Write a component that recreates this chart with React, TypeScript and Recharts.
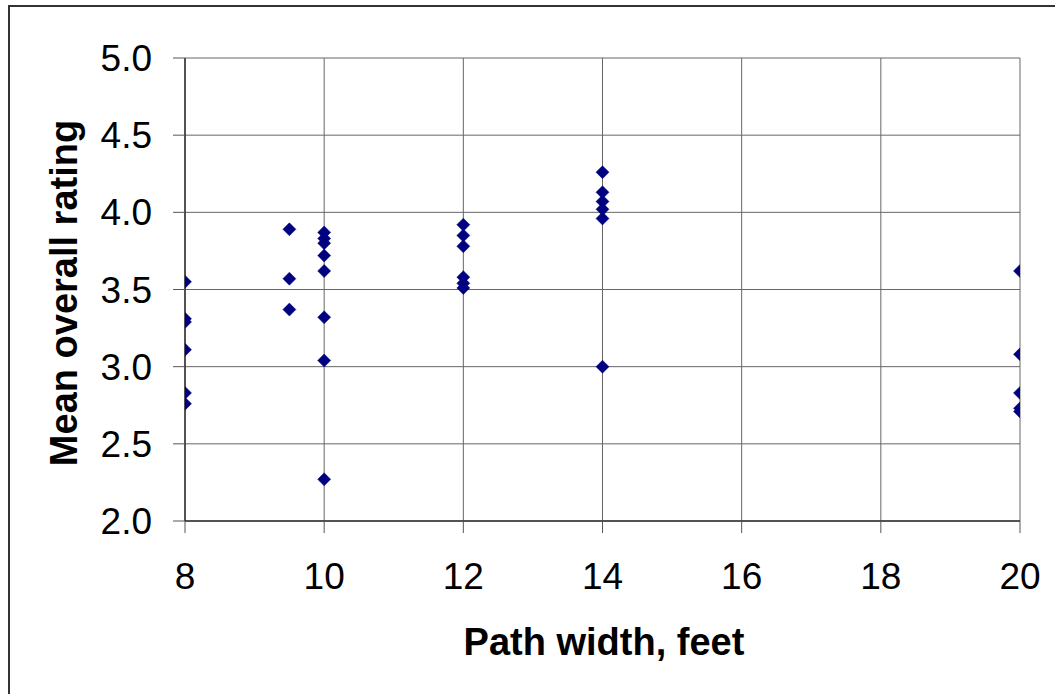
import React from "react";
import { ScatterChart, Scatter, XAxis, YAxis, CartesianGrid, Label } from "recharts";

const xTicks = [8, 10, 12, 14, 16, 18, 20];
const yTicks = [2.0, 2.5, 3.0, 3.5, 4.0, 4.5, 5.0];

const widths = [8, 9.5, 10, 12, 14, 20];
const ratingsAt8 = [3.55, 3.31, 3.29, 3.11, 2.83, 2.76];
const ratingsAt9_5 = [3.89, 3.57, 3.37];
const ratingsAt10 = [3.87, 3.83, 3.8, 3.72, 3.62, 3.32, 3.04, 2.27];
const ratingsAt12 = [3.92, 3.85, 3.78, 3.58, 3.54, 3.51];
const ratingsAt14 = [4.26, 4.13, 4.07, 4.02, 3.96, 3.0];
const ratingsAt20 = [3.62, 3.08, 2.83, 2.73, 2.71];

const groups = [ratingsAt8, ratingsAt9_5, ratingsAt10, ratingsAt12, ratingsAt14, ratingsAt20];
const data = widths.flatMap((w, i) => groups[i].map((r) => ({ x: w, y: r })));

const FONT = "'Liberation Sans', Arial, sans-serif";

const Diamond = (props: any) => {
  const { cx, cy } = props;
  const s = 6.5;
  return (
    <path
      d={`M${cx},${cy - s}L${cx + s},${cy}L${cx},${cy + s}L${cx - s},${cy}Z`}
      fill="#000080"
      stroke="#000080"
      strokeWidth={0.5}
    />
  );
};

export default function App() {
  return (
    <div
      style={{
        position: "absolute",
        left: 0,
        top: 0,
        width: 1055,
        height: 694,
        overflow: "hidden",
        background: "#fff",
      }}
    >
      <div
        style={{
          position: "absolute",
          left: 8,
          top: 5,
          width: 1080,
          height: 720,
          border: "2px solid #333",
        }}
      />
      <div style={{ position: "absolute", left: 0, top: 0 }}>
        <ScatterChart
          width={1055}
          height={694}
          margin={{ top: 58, right: 35, bottom: 0, left: 45 }}
        >
          <CartesianGrid stroke="#666" strokeWidth={1} />
          <XAxis
            type="number"
            dataKey="x"
            domain={[8, 20]}
            ticks={xTicks}
            allowDataOverflow
            tickSize={12}
            tickMargin={30}
            height={173}
            axisLine={{ stroke: "#333", strokeWidth: 1.5 }}
            tickLine={{ stroke: "#555" }}
            tick={{ fill: "#000", fontSize: 37, fontFamily: FONT }}
          >
            <Label
              content={() => (
                <text
                  x={604}
                  y={642}
                  textAnchor="middle"
                  dominantBaseline="central"
                  style={{ fontFamily: FONT, fontSize: 38, fontWeight: "bold", fill: "#000" }}
                >
                  Path width, feet
                </text>
              )}
            />
          </XAxis>
          <YAxis
            type="number"
            dataKey="y"
            domain={[2, 5]}
            ticks={yTicks}
            allowDataOverflow
            width={140}
            tickSize={12}
            tickMargin={21}
            tickFormatter={(v: number) => v.toFixed(1)}
            axisLine={{ stroke: "#333", strokeWidth: 1.5 }}
            tickLine={{ stroke: "#555" }}
            tick={{ fill: "#000", fontSize: 37, fontFamily: FONT }}
          >
            <Label
              content={() => (
                <text
                  x={64}
                  y={293}
                  transform="rotate(-90 64 293)"
                  textAnchor="middle"
                  dominantBaseline="central"
                  style={{ fontFamily: FONT, fontSize: 38, fontWeight: "bold", fill: "#000" }}
                >
                  Mean overall rating
                </text>
              )}
            />
          </YAxis>
          <Scatter data={data} shape={<Diamond />} isAnimationActive={false} />
        </ScatterChart>
      </div>
    </div>
  );
}
